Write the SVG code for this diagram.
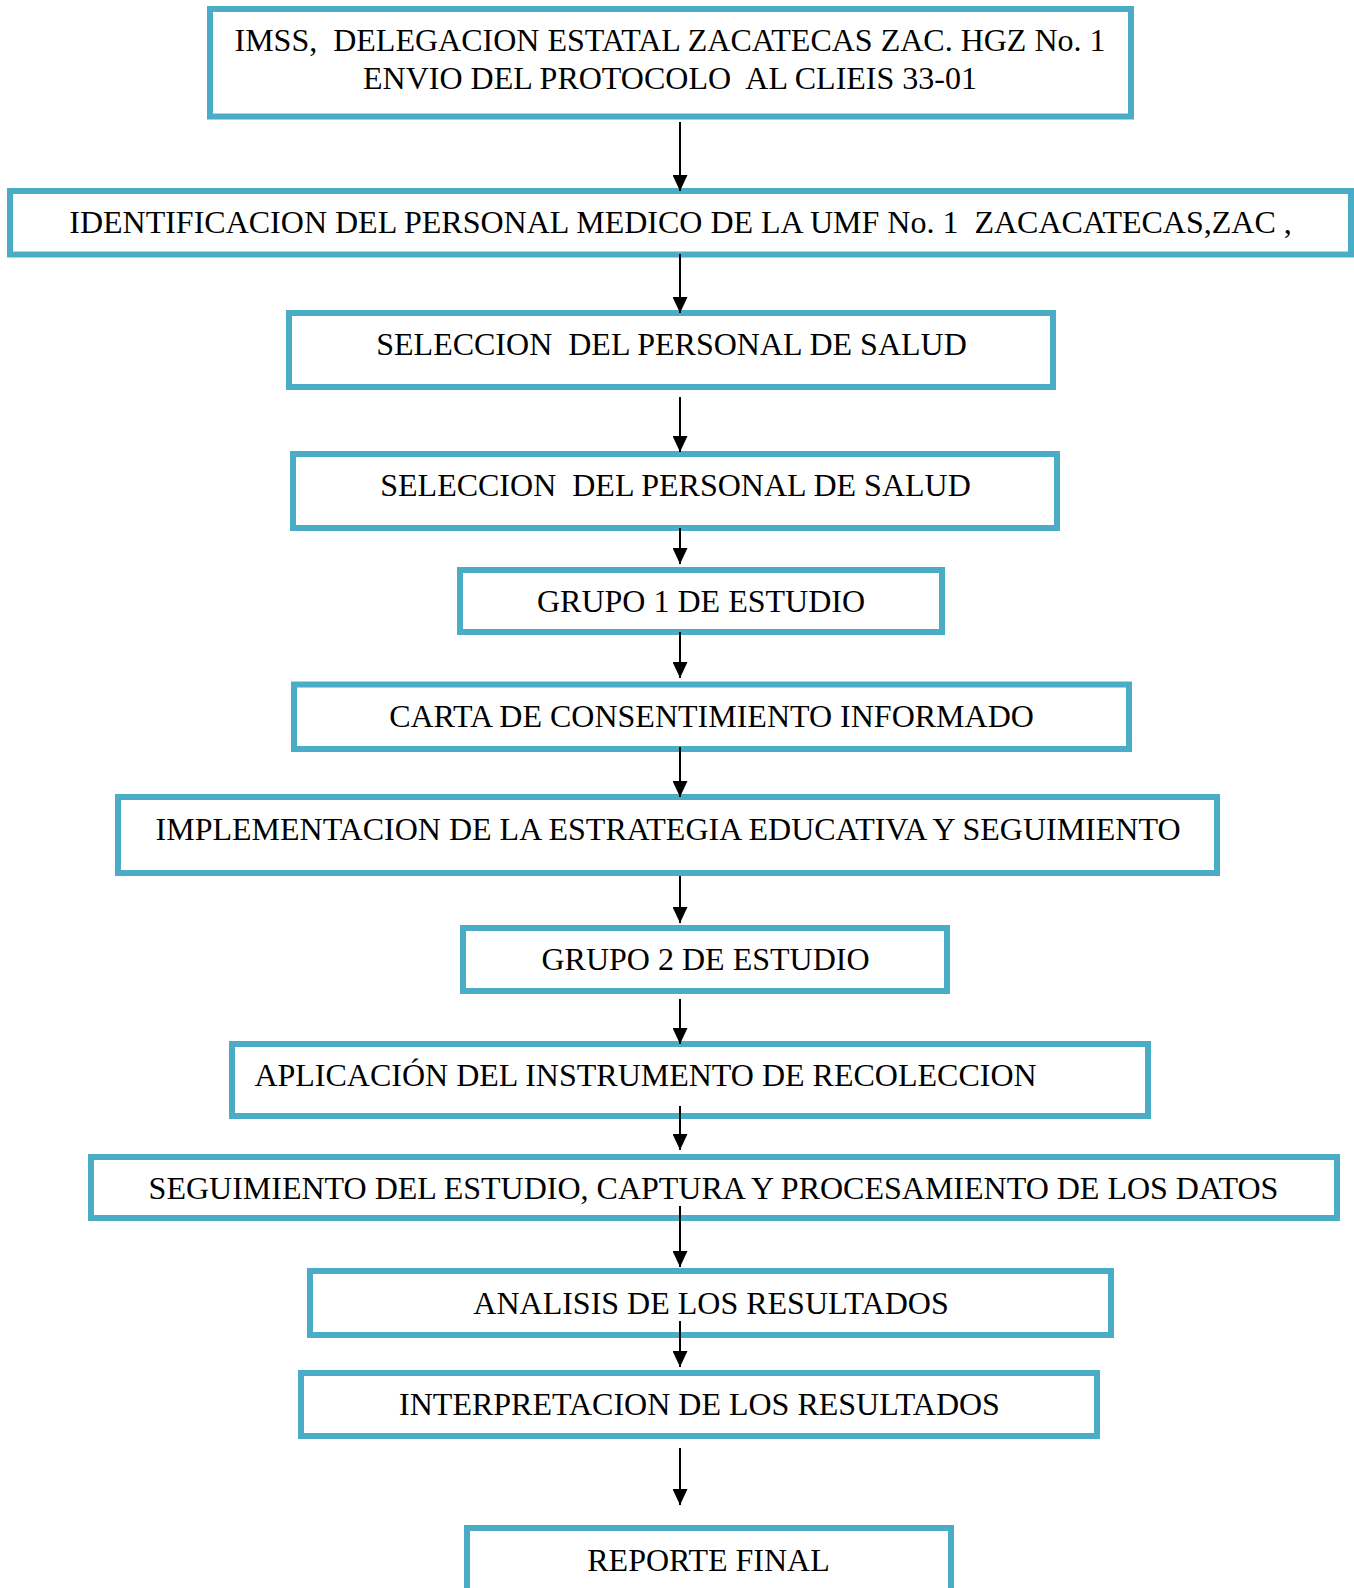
<svg xmlns="http://www.w3.org/2000/svg" width="1354" height="1588" viewBox="0 0 1354 1588" xml:space="preserve">
<style>
.box{fill:#ffffff;stroke:#4BACC6;stroke-width:6}
.t{font-family:"Liberation Serif","Times New Roman",serif;font-size:32px;fill:#000000;text-anchor:middle;white-space:pre}
.c{stroke:#000000;stroke-width:2;fill:none;marker-end:url(#ah)}
</style>
<defs>
<marker id="ah" markerUnits="userSpaceOnUse" viewBox="0 0 16 15" refX="16" refY="7.5" markerWidth="16" markerHeight="15" orient="auto">
<path d="M0,0 L16,7.5 L0,15 z" fill="#000000"/>
</marker>
</defs>
<rect width="1354" height="1588" fill="#ffffff"/>
<g id="n1"><rect class="box" x="210" y="9" width="921" height="107.5"/><text class="t" x="670" y="51">IMSS,  DELEGACION ESTATAL ZACATECAS ZAC. HGZ No. 1</text><text class="t" x="670" y="88.5">ENVIO DEL PROTOCOLO  AL CLIEIS 33-01</text></g>
<g id="n2"><rect class="box" x="10" y="191" width="1341" height="63.5"/><text class="t" x="680.5" y="233">IDENTIFICACION DEL PERSONAL MEDICO DE LA UMF No. 1  ZACACATECAS,ZAC ,</text></g>
<g id="n3"><rect class="box" x="289" y="313" width="764" height="74"/><text class="t" x="671.5" y="355">SELECCION  DEL PERSONAL DE SALUD</text></g>
<g id="n4"><rect class="box" x="293" y="454" width="764" height="74"/><text class="t" x="675.5" y="495.5">SELECCION  DEL PERSONAL DE SALUD</text></g>
<g id="n5"><rect class="box" x="460" y="570" width="482" height="62"/><text class="t" x="701" y="612">GRUPO 1 DE ESTUDIO</text></g>
<g id="n6"><rect class="box" x="294" y="684.5" width="835" height="64.5"/><text class="t" x="711.5" y="726.5">CARTA DE CONSENTIMIENTO INFORMADO</text></g>
<g id="n7"><rect class="box" x="118" y="797" width="1099" height="76"/><text class="t" x="668" y="840">IMPLEMENTACION DE LA ESTRATEGIA EDUCATIVA Y SEGUIMIENTO</text></g>
<g id="n8"><rect class="box" x="463" y="928" width="484" height="63"/><text class="t" x="705.5" y="969.5">GRUPO 2 DE ESTUDIO</text></g>
<g id="n9"><rect class="box" x="232" y="1044" width="916" height="72"/><text class="t" x="645.5" y="1086">APLICACIÓN DEL INSTRUMENTO DE RECOLECCION</text></g>
<g id="n10"><rect class="box" x="91" y="1157" width="1246" height="61"/><text class="t" x="713.5" y="1198.5">SEGUIMIENTO DEL ESTUDIO, CAPTURA Y PROCESAMIENTO DE LOS DATOS</text></g>
<g id="n11"><rect class="box" x="310" y="1271" width="801" height="64"/><text class="t" x="711" y="1314">ANALISIS DE LOS RESULTADOS</text></g>
<g id="n12"><rect class="box" x="301" y="1373" width="796" height="63"/><text class="t" x="699.5" y="1415">INTERPRETACION DE LOS RESULTADOS</text></g>
<g id="n13"><rect class="box" x="467" y="1528" width="484" height="80"/><text class="t" x="708.5" y="1571">REPORTE FINAL</text></g>
<g id="connectors">
<line class="c" x1="680" y1="122" x2="680" y2="191"/>
<line class="c" x1="680" y1="254" x2="680" y2="313"/>
<line class="c" x1="680" y1="397" x2="680" y2="452"/>
<line class="c" x1="680" y1="528" x2="680" y2="564"/>
<line class="c" x1="680" y1="632" x2="680" y2="678"/>
<line class="c" x1="680" y1="747" x2="680" y2="797"/>
<line class="c" x1="680" y1="876" x2="680" y2="923"/>
<line class="c" x1="680" y1="999" x2="680" y2="1044"/>
<line class="c" x1="680" y1="1106" x2="680" y2="1150"/>
<line class="c" x1="680" y1="1206" x2="680" y2="1267"/>
<line class="c" x1="680" y1="1321" x2="680" y2="1367"/>
<line class="c" x1="680" y1="1448" x2="680" y2="1505"/>
</g>
</svg>
